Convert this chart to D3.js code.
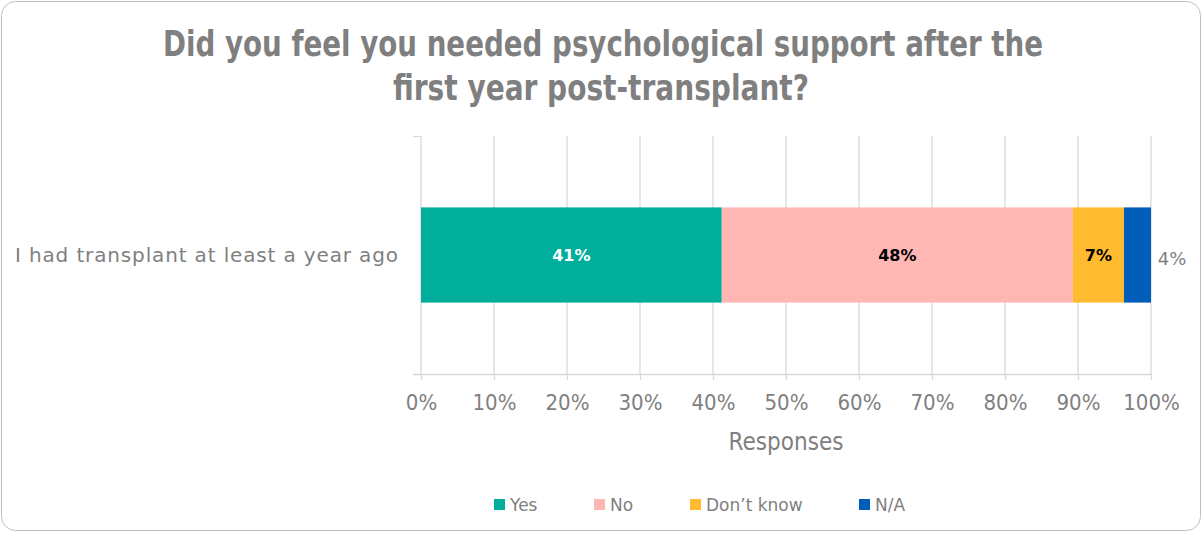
<!DOCTYPE html>
<html><head><meta charset="utf-8">
<script src="https://cdn.jsdelivr.net/npm/d3@7"></script>
<style>body{margin:0;background:#fff}svg{display:block}</style>
</head><body>
<svg id="c" width="1202" height="533"></svg>
<script>
const categories = ["I had transplant at least a year ago"];
const seriesNames = ["Yes", "No", "Don\u2019t know", "N/A"];
const seriesValues = [41.2, 48.1, 7.0, 3.7];
const seriesLabels = ["41%", "48%", "7%", "4%"];
const seriesColors = ["#00AE9B", "#FFB7B4", "#FFBB30", "#005EB8"];
const tickValues = [0,10,20,30,40,50,60,70,80,90,100];

const svg = d3.select("#c");
const W = 1202, H = 533;
const cond = "'DejaVu Sans Condensed','Liberation Sans Narrow',sans-serif";
const gray = "#7F7F7F";

svg.append("rect").attr("x",1.5).attr("y",1.5).attr("width",W-3).attr("height",H-4)
  .attr("rx",14).attr("fill","#fff").attr("stroke","#BFBFBF").attr("stroke-width",1);

const title = svg.append("text").attr("text-anchor","middle").attr("fill",gray)
  .style("font-family",cond).style("font-weight","bold").style("font-size","35px");
title.append("tspan").attr("x",603).attr("y",56).attr("textLength",880).attr("lengthAdjust","spacingAndGlyphs")
  .text("Did you feel you needed psychological support after the");
title.append("tspan").attr("x",601).attr("y",100).attr("textLength",416).attr("lengthAdjust","spacingAndGlyphs")
  .text("first year post-transplant?");

const x = d3.scaleLinear().domain([0,100]).range([421,1151]);
const y = d3.scaleBand().domain(categories).range([136,374]).paddingInner(0.6).paddingOuter(0.3);

// gridlines
svg.append("g").selectAll("line").data(tickValues.slice(1)).join("line")
  .attr("x1",d=>x(d)).attr("x2",d=>x(d)).attr("y1",136).attr("y2",374)
  .attr("stroke","#D9D9D9").attr("stroke-width",1.3);

// x axis
const xa = svg.append("g").attr("transform","translate(0,374)")
  .call(d3.axisBottom(x).tickValues(tickValues).tickFormat(d=>d+"%").tickSize(6).tickPadding(14));
xa.select(".domain").attr("stroke","#D9D9D9").attr("stroke-width",1.3).attr("d","M413,0.5H1151");
xa.selectAll(".tick line").attr("stroke","#D9D9D9").attr("stroke-width",1.3);
xa.selectAll(".tick text").attr("fill",gray).style("font-family",cond).style("font-size","22px");

// y axis
const ya = svg.append("g").attr("transform","translate(421,0)")
  .call(d3.axisLeft(d3.scaleLinear().domain([0,1]).range([374,136])).tickValues([0,1]).tickFormat("").tickSize(8));
ya.select(".domain").attr("stroke","#D9D9D9").attr("stroke-width",1.3).attr("d","M0,136V374");
ya.selectAll(".tick line").attr("stroke","#D9D9D9").attr("stroke-width",1.3);

svg.append("g").selectAll("text").data(categories).join("text")
  .attr("x",398).attr("y",d=>y(d)+y.bandwidth()/2).attr("dy","0.35em")
  .attr("text-anchor","end").attr("fill",gray)
  .style("font-family","'DejaVu Sans',sans-serif").style("font-size","20px")
  .attr("textLength",383).attr("lengthAdjust","spacing")
  .text(d=>d);

// stacked bars
let cum = 0;
const segs = seriesValues.map((v,i)=>{const s={i,v,x0:cum,x1:cum+v}; cum+=v; return s;});
const cat = categories[0];
svg.append("g").selectAll("rect").data(segs).join("rect")
  .attr("x",d=>x(d.x0)).attr("width",d=>x(d.x1)-x(d.x0))
  .attr("y",y(cat)).attr("height",y.bandwidth())
  .attr("fill",d=>seriesColors[d.i]);

svg.append("g").selectAll("text").data(segs).join("text")
  .attr("x",d=>d.i===3 ? x(d.x1)+21 : (x(d.x0)+x(d.x1))/2)
  .attr("y",d=>y(cat)+y.bandwidth()/2 + (d.i===3?4:0)).attr("dy","0.35em")
  .attr("text-anchor","middle")
  .attr("fill",d=>d.i===0?"#fff":(d.i===3?gray:"#000"))
  .style("font-family","'DejaVu Sans',sans-serif").style("font-weight",d=>d.i===3?"normal":"bold")
  .style("font-size",d=>d.i===3?"18px":"16px")
  .text(d=>seriesLabels[d.i]);

svg.append("text").attr("x",786).attr("y",450).attr("text-anchor","middle").attr("fill",gray)
  .style("font-family",cond).style("font-size","24px").text("Responses");

// legend
const legX = [494, 594, 690, 859];
const lg = svg.append("g").selectAll("g").data(seriesNames).join("g")
  .attr("transform",(d,i)=>`translate(${legX[i]},505)`);
lg.append("rect").attr("x",0).attr("y",-6).attr("width",11).attr("height",11).attr("fill",(d,i)=>seriesColors[i]);
lg.append("text").attr("x",16).attr("y",0).attr("dy","0.35em").attr("fill",gray)
  .style("font-family","'DejaVu Sans',sans-serif").style("font-size","17px").text(d=>d);
</script>
</body></html>
